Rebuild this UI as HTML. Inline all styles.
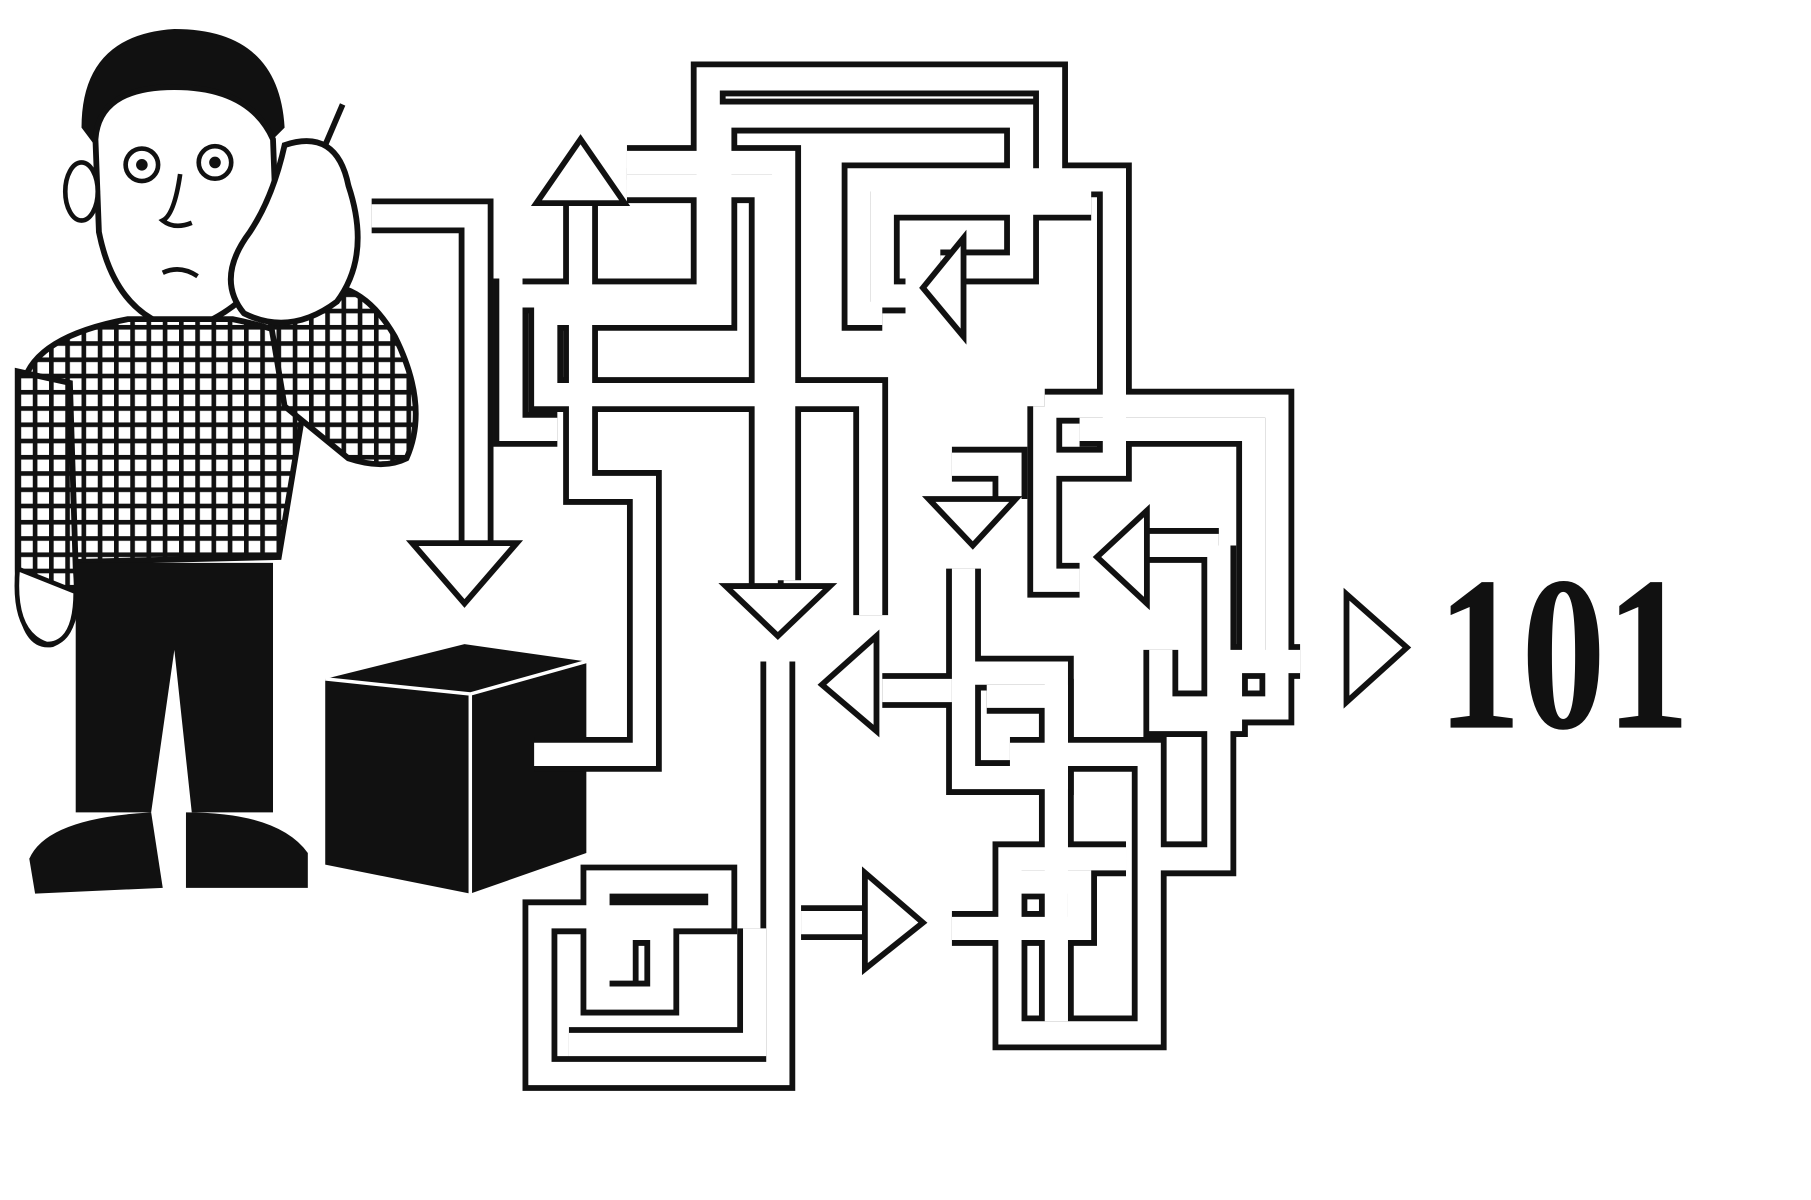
<!DOCTYPE html>
<html><head><meta charset="utf-8"><style>
html,body{margin:0;padding:0;background:#fff;width:1811px;height:1200px;overflow:hidden}
svg{display:block}
</style></head><body>
<svg width="1811" height="1200" viewBox="0 0 1560 1034" xmlns="http://www.w3.org/2000/svg">
<defs>
<pattern id="chk" width="14" height="14" patternUnits="userSpaceOnUse">
<rect width="14" height="14" fill="#fff"/>
<rect x="0" y="0" width="14" height="4" fill="#111"/>
<rect x="0" y="0" width="4" height="14" fill="#111"/>
</pattern>
</defs>
<!-- Man -->
<path d="M70,110 Q70,30 150,25 Q240,25 245,110 L235,120 Q210,70 150,75 Q100,80 85,130 Z" fill="#111"/>
<path d="M82,120 Q85,75 150,75 Q215,75 235,120 L238,200 Q230,260 160,285 Q100,275 85,200 Z" fill="#fff" stroke="#111" stroke-width="5"/>
<ellipse cx="70" cy="165" rx="14" ry="25" fill="#fff" stroke="#111" stroke-width="4"/>
<circle cx="122" cy="142" r="14" fill="#fff" stroke="#111" stroke-width="4"/><circle cx="122" cy="142" r="5" fill="#111"/>
<circle cx="185" cy="140" r="14" fill="#fff" stroke="#111" stroke-width="4"/><circle cx="185" cy="140" r="5" fill="#111"/>
<path d="M155,150 Q150,185 140,190 Q150,198 165,192" fill="none" stroke="#111" stroke-width="4"/>
<path d="M140,235 Q155,228 170,238" fill="none" stroke="#111" stroke-width="4"/>
<path d="M20,330 Q30,290 110,275 L200,275 Q250,285 270,300 L240,480 L30,485 Z" fill="url(#chk)" stroke="#111" stroke-width="5"/>
<path d="M230,260 Q300,220 340,290 Q370,350 350,395 Q330,405 300,395 L245,350 Z" fill="url(#chk)" stroke="#111" stroke-width="5"/>
<path d="M245,125 Q290,110 300,160 Q320,220 290,260 Q250,290 210,270 Q185,240 215,200 Q235,170 245,125 Z" fill="#fff" stroke="#111" stroke-width="5"/>
<line x1="280" y1="125" x2="295" y2="90" stroke="#111" stroke-width="5"/>
<path d="M15,320 L15,490 Q15,560 45,555 Q70,545 65,490 L60,330 Z" fill="url(#chk)" stroke="#111" stroke-width="5"/>
<path d="M15,490 Q10,545 40,555 Q65,555 65,510 Z" fill="#fff" stroke="#111" stroke-width="4"/>
<path d="M65,485 L235,485 L235,700 L165,700 L150,560 L130,700 L65,700 Z" fill="#111"/>
<path d="M25,740 Q40,705 130,700 L140,765 L30,770 Z" fill="#111"/>
<path d="M160,700 Q240,700 265,735 L265,765 L160,765 Z" fill="#111"/>
<!-- Cube -->
<path d="M280,585 L400,555 L505,570 L505,735 L405,770 L280,745 Z" fill="#111"/>
<path d="M280,585 L405,598 L505,570 M405,598 L405,770" fill="none" stroke="#fff" stroke-width="3"/>
<!-- Pipes -->
<g fill="none" stroke-linejoin="miter" stroke-linecap="butt">
<g id="p" stroke="#111" stroke-width="30">
<polyline points="320,186 410,186 410,470"/>
<polyline points="500,160 500,420 555,420 555,650 460,650"/>
<polyline points="440,240 440,370 480,370"/>
<polyline points="440,255 610,255 610,68 905,68 905,150"/>
<polyline points="470,270 620,270 620,100 880,100 880,230 810,230"/>
<polyline points="540,140 675,140 675,500"/>
<polyline points="470,260 470,340 750,340 750,530"/>
<polyline points="540,160 660,160 660,520"/>
<polyline points="760,270 740,270 740,155 960,155 960,400 900,400"/>
<polyline points="780,255 760,255 760,175 940,175"/>
<polyline points="900,350 1100,350 1100,610 1000,610"/>
<polyline points="930,370 1080,370 1080,570"/>
<polyline points="900,350 900,500 930,500"/>
<polyline points="820,400 870,400 870,430"/>
<polyline points="1050,470 990,470"/>
<polyline points="1050,470 1050,740 990,740"/>
<polyline points="1000,560 1000,620 1060,620 1060,570 1120,570"/>
<polyline points="830,490 830,670 910,670 910,580 830,580"/>
<polyline points="850,600 910,600 910,880"/>
<polyline points="870,650 990,650 990,890 870,890 870,740 970,740"/>
<polyline points="870,760 930,760 930,800 820,800"/>
<polyline points="670,570 670,925 465,925 465,790 620,790 620,760 515,760 515,860 570,860 570,800 535,800 535,845"/>
<polyline points="490,900 650,900 650,800"/>
<polyline points="690,795 745,795"/>
<polyline points="760,595 820,595"/>
</g>
</g>
<g fill="none" stroke="#fff" stroke-width="20" stroke-linejoin="miter">
<polyline points="320,186 410,186 410,470"/>
<polyline points="500,160 500,420 555,420 555,650 460,650"/>
<polyline points="440,240 440,370 480,370"/>
<polyline points="440,255 610,255 610,68 905,68 905,150"/>
<polyline points="470,270 620,270 620,100 880,100 880,230 810,230"/>
<polyline points="540,140 675,140 675,500"/>
<polyline points="470,260 470,340 750,340 750,530"/>
<polyline points="540,160 660,160 660,520"/>
<polyline points="760,270 740,270 740,155 960,155 960,400 900,400"/>
<polyline points="780,255 760,255 760,175 940,175"/>
<polyline points="900,350 1100,350 1100,610 1000,610"/>
<polyline points="930,370 1080,370 1080,570"/>
<polyline points="900,350 900,500 930,500"/>
<polyline points="820,400 870,400 870,430"/>
<polyline points="1050,470 990,470"/>
<polyline points="1050,470 1050,740 990,740"/>
<polyline points="1000,560 1000,620 1060,620 1060,570 1120,570"/>
<polyline points="830,490 830,670 910,670 910,580 830,580"/>
<polyline points="850,600 910,600 910,880"/>
<polyline points="870,650 990,650 990,890 870,890 870,740 970,740"/>
<polyline points="870,760 930,760 930,800 820,800"/>
<polyline points="670,570 670,925 465,925 465,790 620,790 620,760 515,760 515,860 570,860 570,800 535,800 535,845"/>
<polyline points="490,900 650,900 650,800"/>
<polyline points="690,795 745,795"/>
<polyline points="760,595 820,595"/>
</g>
<!-- Arrowheads -->
<g fill="#fff" stroke="#111" stroke-width="5" stroke-linejoin="miter">
<polygon points="355,468 445,468 400,520"/>
<polygon points="462,175 538,175 500,120"/>
<polygon points="625,505 715,505 670,548"/>
<polygon points="755,548 755,630 708,590"/>
<polygon points="745,752 745,835 795,795"/>
<polygon points="1160,512 1160,605 1212,558"/>
<polygon points="830,205 830,290 795,248"/>
<polygon points="800,430 875,430 838,470"/>
<polygon points="988,440 988,520 945,480"/>
</g>
<text x="1238" y="627" font-family="Liberation Serif, serif" font-weight="bold" font-size="190" fill="#111" textLength="218" lengthAdjust="spacingAndGlyphs">101</text>
</svg>
</body></html>
